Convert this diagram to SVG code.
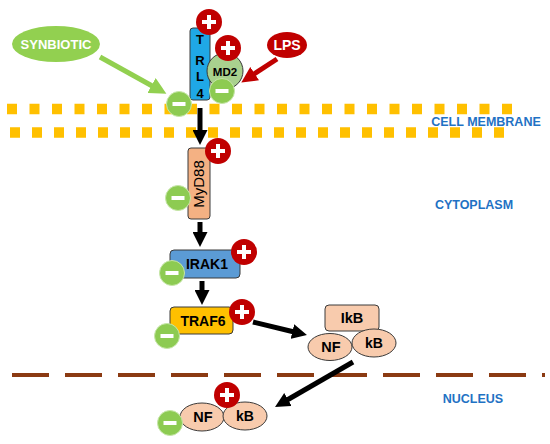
<svg xmlns="http://www.w3.org/2000/svg" width="550" height="444" viewBox="0 0 550 444">
<style>
.lbl{font-family:"Liberation Sans",Arial,sans-serif;font-weight:bold;text-anchor:middle}
.area{font-family:"Liberation Sans",Arial,sans-serif;font-weight:bold;font-size:12.5px;fill:#1F72C4;text-anchor:middle}
.box{stroke:#3A3A3A;stroke-width:1}
.plus{fill:#C00000}
.minus{fill:#8DCB52;stroke:#C6E6A8;stroke-width:1}
.sign{fill:#fff}
</style>
<defs>
<marker id="ahK" viewBox="0 0 10 10" refX="2" refY="5" markerWidth="3" markerHeight="3" orient="auto"><path d="M0,0L10,5L0,10z" fill="#000"/></marker>
<marker id="ahG" viewBox="0 0 10 10" refX="2" refY="5" markerWidth="3.4" markerHeight="3.4" orient="auto"><path d="M0,0L10,5L0,10z" fill="#92D050"/></marker>
<marker id="ahR" viewBox="0 0 10 10" refX="2" refY="5" markerWidth="3.2" markerHeight="3.2" orient="auto"><path d="M0,0L10,5L0,10z" fill="#C00000"/></marker>
<g id="p"><circle r="13" class="plus"/><rect x="-7" y="-2" width="14" height="4" class="sign"/><rect x="-2" y="-7" width="4" height="14" class="sign"/></g>
<g id="m"><circle r="12.5" class="minus"/><rect x="-6.5" y="-2" width="13" height="4" class="sign"/></g>
</defs>
<rect width="550" height="444" fill="#fff"/>

<g id="membrane">
<line x1="7" y1="109" x2="514" y2="109" stroke="#FFC000" stroke-width="10.5" stroke-dasharray="10 12.5"/>
<line x1="10" y1="132.5" x2="515" y2="132.5" stroke="#FFC000" stroke-width="10.5" stroke-dasharray="10 12"/>
</g>
<g id="nucleus-envelope">
<line x1="12" y1="375" x2="545" y2="375" stroke="#8B3A12" stroke-width="4" stroke-dasharray="37 16"/>
</g>
<g id="area-labels">
<text class="area" x="486" y="126">CELL MEMBRANE</text>
<text class="area" x="474" y="209">CYTOPLASM</text>
<text class="area" x="473" y="403">NUCLEUS</text>
</g>

<g id="connectors" fill="none">
<line x1="100" y1="57" x2="154.5" y2="87.2" stroke="#92D050" stroke-width="5" marker-end="url(#ahG)"/>
<line x1="277" y1="59" x2="252" y2="75.4" stroke="#C00000" stroke-width="5" marker-end="url(#ahR)"/>
<line x1="200" y1="108" x2="200" y2="133" stroke="#000" stroke-width="5" marker-end="url(#ahK)"/>
<line x1="200" y1="222" x2="200" y2="235" stroke="#000" stroke-width="5" marker-end="url(#ahK)"/>
<line x1="202" y1="281" x2="202" y2="293" stroke="#000" stroke-width="5" marker-end="url(#ahK)"/>
<line x1="253" y1="322" x2="295.3" y2="332.2" stroke="#000" stroke-width="5" marker-end="url(#ahK)"/>
<line x1="353" y1="362" x2="285.4" y2="401" stroke="#000" stroke-width="5" marker-end="url(#ahK)"/>
</g>

<g id="synbiotic">
<ellipse cx="56" cy="44" rx="44" ry="18" fill="#92D050"/>
<text class="lbl" x="56" y="49" font-size="13" fill="#fff">SYNBIOTIC</text>
</g>
<g id="lps">
<ellipse cx="287" cy="45" rx="20" ry="13" fill="#C00000"/>
<text class="lbl" x="287" y="50" font-size="14" fill="#fff">LPS</text>
</g>
<g id="tlr4">
<rect x="190" y="28" width="20" height="72" rx="3" fill="#1FA8E6" class="box"/>
<text class="lbl" font-size="13" x="200" y="44">T</text>
<text class="lbl" font-size="13" x="200" y="64.5">R</text>
<text class="lbl" font-size="13" x="200" y="81">L</text>
<text class="lbl" font-size="13" x="200" y="98">4</text>
</g>
<g id="md2">
<ellipse cx="225" cy="71" rx="18" ry="18" fill="#A9D18E" class="box"/>
<text class="lbl" font-size="11.5" x="225" y="75.5">MD2</text>
</g>
<g id="myd88">
<rect x="188" y="148" width="22" height="71" rx="3" fill="#F4B183" class="box"/>
<text font-family="Liberation Sans, Arial, sans-serif" font-size="15" text-anchor="middle" transform="translate(204,184) rotate(-90)">MyD88</text>
</g>
<g id="irak1">
<rect x="170" y="250" width="70" height="28" rx="4" fill="#5B9BD5" class="box"/>
<text class="lbl" font-size="14" x="207" y="269">IRAK1</text>
</g>
<g id="traf6">
<rect x="170" y="307" width="63" height="27" rx="4" fill="#FFC000" class="box"/>
<text class="lbl" font-size="14" x="203" y="325.5">TRAF6</text>
</g>
<g id="ikb-complex">
<rect x="325" y="305" width="54" height="26" rx="4" fill="#F8CBAD" class="box" stroke="#2E3E4E"/>
<text class="lbl" font-size="14.5" x="352" y="323">IkB</text>
<ellipse cx="330" cy="347" rx="22" ry="13.5" fill="#F8CBAD" class="box" stroke="#2E3E4E"/>
<text class="lbl" font-size="14.5" x="331" y="352">NF</text>
<ellipse cx="374" cy="343" rx="22" ry="14" fill="#F8CBAD" class="box" stroke="#2E3E4E"/>
<text class="lbl" font-size="14" x="374" y="348">kB</text>
</g>
<g id="nfkb-nuclear">
<ellipse cx="202" cy="417" rx="22" ry="14" fill="#F8CBAD" class="box" stroke="#2E3E4E"/>
<text class="lbl" font-size="14.5" x="203" y="422">NF</text>
<ellipse cx="245" cy="416" rx="22" ry="14" fill="#F8CBAD" class="box" stroke="#2E3E4E"/>
<text class="lbl" font-size="14" x="245" y="421">kB</text>
</g>

<g id="signs">
<use href="#p" x="209" y="22"/>
<use href="#p" x="228" y="48"/>
<use href="#m" x="222" y="91"/>
<use href="#m" x="179" y="104"/>
<use href="#p" x="218" y="151"/>
<use href="#m" x="178" y="198"/>
<use href="#p" x="244" y="252"/>
<use href="#m" x="172" y="273"/>
<use href="#p" x="242" y="312"/>
<use href="#m" x="167" y="336"/>
<use href="#p" x="227" y="395"/>
<use href="#m" x="170" y="423"/>
</g>
</svg>
